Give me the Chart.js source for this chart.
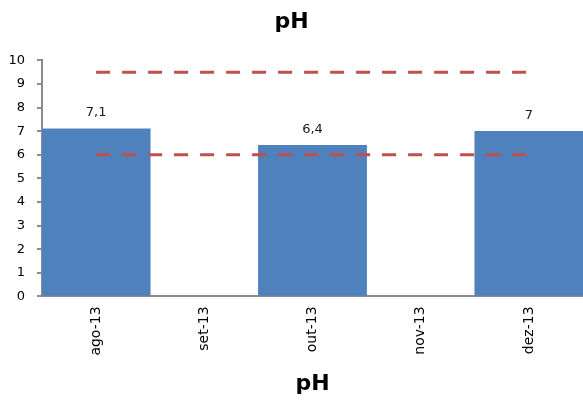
<!DOCTYPE html>
<html>
<head>
<meta charset="utf-8">
<script src="https://cdn.jsdelivr.net/npm/chart.js@4/dist/chart.umd.min.js"></script>
<style>
  html, body { margin: 0; padding: 0; background: #fff; }
  #wrap { width: 583px; height: 402px; }
</style>
</head>
<body>
<div id="wrap"><canvas id="c" width="583" height="402"></canvas></div>
<script>
// Monthly pH readings with the allowed range limits
const months = ['ago-13', 'set-13', 'out-13', 'nov-13', 'dez-13'];
const phValues = [7.1, null, 6.4, null, 7.0];
const upperLimit = [9.5, 9.5, 9.5, 9.5, 9.5];
const lowerLimit = [6, 6, 6, 6, 6];
const yTicks = [0, 1, 2, 3, 4, 5, 6, 7, 8, 9, 10];

const FONT = "'DejaVu Sans', sans-serif";

// Writes each bar's value above it, using a decimal comma
const barValueLabels = {
  id: 'barValueLabels',
  afterDatasetsDraw(chart) {
    const ctx = chart.ctx;
    chart.data.datasets.forEach((ds, i) => {
      if (ds.type !== 'bar') return;
      const meta = chart.getDatasetMeta(i);
      meta.data.forEach((bar, j) => {
        const v = ds.data[j];
        if (v === null || v === undefined) return;
        ctx.save();
        ctx.font = '13px ' + FONT;
        ctx.fillStyle = '#1a1a1a';
        ctx.textAlign = 'center';
        ctx.textBaseline = 'middle';
        ctx.fillText(String(v).replace('.', ','), bar.x, bar.y - 16);
        ctx.restore();
      });
    });
  }
};

const limitLine = (values) => ({
  type: 'line',
  data: values,
  borderColor: '#C0504D',
  borderWidth: 3,
  borderDash: [14, 12],
  borderCapStyle: 'butt',
  pointRadius: 0,
  fill: false,
  order: 1
});

new Chart(document.getElementById('c'), {
  type: 'bar',
  data: {
    labels: months,
    datasets: [
      limitLine(upperLimit),
      limitLine(lowerLimit),
      {
        type: 'bar',
        data: phValues,
        backgroundColor: '#4F81BD',
        barPercentage: 1,
        categoryPercentage: 1,
        order: 2
      }
    ]
  },
  options: {
    responsive: false,
    animation: false,
    layout: { padding: { left: 0, right: 0, top: 0, bottom: 5 } },
    plugins: {
      legend: { display: false },
      tooltip: { enabled: false },
      title: {
        display: true,
        text: 'pH',
        color: '#000',
        font: { family: FONT, size: 22, weight: 'bold' },
        padding: { top: 9, bottom: 25 }
      }
    },
    scales: {
      x: {
        offset: true,
        grid: { display: true, drawOnChartArea: false, drawTicks: false },
        border: { display: true, color: '#8c8c8c', width: 2 },
        ticks: {
          color: '#000',
          font: { family: FONT, size: 14 },
          minRotation: 90,
          maxRotation: 90,
          padding: 10
        },
        title: {
          display: true,
          text: 'pH',
          color: '#000',
          font: { family: FONT, size: 22, weight: 'bold' },
          padding: { top: 5, bottom: 0 }
        }
      },
      y: {
        min: 0,
        max: 10,
        afterFit(scale) { scale.width = 42; },
        afterBuildTicks(scale) { scale.ticks = yTicks.map(v => ({ value: v })); },
        grid: { drawOnChartArea: false, drawTicks: true, tickLength: 5, color: '#8c8c8c', lineWidth: 2 },
        border: { display: true, color: '#8c8c8c', width: 2 },
        ticks: {
          color: '#000',
          font: { family: FONT, size: 13 },
          padding: 12
        }
      }
    }
  },
  plugins: [barValueLabels]
});
</script>
</body>
</html>
